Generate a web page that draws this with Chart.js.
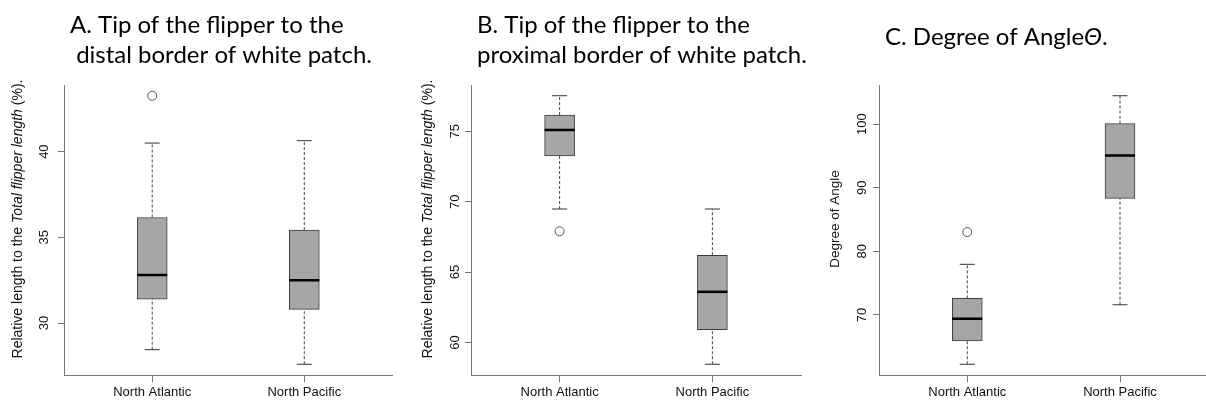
<!DOCTYPE html>
<html><head><meta charset="utf-8">
<script src="https://cdn.jsdelivr.net/npm/chart.js@4.4.1/dist/chart.umd.min.js"></script>
<style>
html,body{margin:0;padding:0;background:#fff;width:1206px;height:406px;overflow:hidden}
canvas{position:absolute;top:0}
</style></head><body>
<canvas id="cA" width="400" height="406" style="left:0px"></canvas>
<canvas id="cB" width="480" height="406" style="left:400px"></canvas>
<canvas id="cC" width="400" height="406" style="left:806px"></canvas>
<script>
const CATEGORIES = ['North Atlantic', 'North Pacific'];

// Panel A: tip of flipper to distal border of white patch (%)
const A_MIN = [28.45, 27.6];
const A_Q1 = [31.4, 30.8];
const A_MEDIAN = [32.81, 32.5];
const A_Q3 = [36.16, 35.43];
const A_MAX = [40.5, 40.64];
const A_OUTLIERS = [[43.26], []];
const A_TICKS = [30, 35, 40];

// Panel B: tip of flipper to proximal border of white patch (%)
const B_MIN = [69.48, 58.46];
const B_Q1 = [73.25, 60.92];
const B_MEDIAN = [75.09, 63.6];
const B_Q3 = [76.15, 66.2];
const B_MAX = [77.52, 69.48];
const B_OUTLIERS = [[67.9], []];
const B_TICKS = [60, 65, 70, 75];

// Panel C: degree of angle
const C_MIN = [62.24, 71.6];
const C_Q1 = [65.9, 88.34];
const C_MEDIAN = [69.4, 95.08];
const C_Q3 = [72.6, 100.1];
const C_MAX = [77.96, 104.48];
const C_OUTLIERS = [[83.04], []];
const C_TICKS = [70, 80, 90, 100];

const SANS = '"Liberation Sans", Arial, sans-serif';
const TICK_FONT = '13px ' + SANS;
const TITLE_FAMILY = 'Lato, "Open Sans", sans-serif';

function drawSegs(ctx, segs, x, y, size, family, align) {
  const fonts = segs.map(s => (s[1] ? 'italic ' : '') + size + 'px ' + family);
  let total = 0;
  const widths = segs.map((s, i) => { ctx.font = fonts[i]; const w = ctx.measureText(s[0]).width; total += w; return w; });
  let cx = align === 'center' ? x - total / 2 : x;
  segs.forEach((s, i) => { ctx.font = fonts[i]; ctx.fillText(s[0], cx, y); cx += widths[i]; });
}

function makePanel(id, cfg) {
  const xs = CATEGORIES.map((c, i) => i + 1);
  const whiskers = [];
  xs.forEach((x, i) => {
    whiskers.push({x, y: cfg.min[i]}, {x, y: cfg.q1[i]}, {x, y: null},
                  {x, y: cfg.q3[i]}, {x, y: cfg.max[i]}, {x, y: null});
  });
  const caps = [];
  xs.forEach((x, i) => { caps.push({x, y: cfg.min[i]}, {x, y: cfg.max[i]}); });
  const outs = [];
  xs.forEach((x, i) => { cfg.out[i].forEach(v => outs.push({x, y: v})); });
  const all = [].concat(cfg.min, cfg.max, ...cfg.out);
  const lo = Math.min(...all), hi = Math.max(...all), ext = (hi - lo) * 0.04;

  const textPlugin = {
    id: 'panelText',
    afterDraw(chart) {
      const ctx = chart.ctx;
      const ys = chart.scales.y;
      ctx.save();
      ctx.fillStyle = '#111';
      // y tick labels (rotated)
      ctx.font = TICK_FONT;
      ctx.textAlign = 'center';
      ctx.textBaseline = 'middle';
      ys.ticks.forEach(t => {
        const py = ys.getPixelForValue(t.value);
        ctx.save();
        ctx.translate(chart.chartArea.left - cfg.tickOffset, py);
        ctx.rotate(-Math.PI / 2);
        ctx.fillText(String(t.value), 0, 0);
        ctx.restore();
      });
      // y axis title
      ctx.save();
      ctx.translate(cfg.ylab.x - cfg.L, cfg.ylab.y);
      ctx.rotate(-Math.PI / 2);
      ctx.textAlign = 'left';
      ctx.textBaseline = 'middle';
      drawSegs(ctx, cfg.ylab.segs, 0, 0, cfg.ylab.size, SANS, 'center');
      ctx.restore();
      // panel title
      ctx.textAlign = 'left';
      ctx.textBaseline = 'alphabetic';
      ctx.fillStyle = '#000';
      cfg.titles.forEach(t => drawSegs(ctx, t.segs, t.x - cfg.L, t.y, 24, TITLE_FAMILY, 'left'));
      ctx.restore();
    }
  };

  return new Chart(document.getElementById(id), {
    type: 'bar',
    data: {
      datasets: [
        {type: 'scatter', data: xs.map((x, i) => ({x, y: cfg.med[i]})), pointStyle: 'line', pointRadius: 15,
         pointBorderWidth: 2.5, pointBorderColor: '#000', order: 0},
        {type: 'scatter', data: outs, pointStyle: 'circle', pointRadius: 4.5, pointBorderWidth: 1,
         pointBorderColor: '#555', pointBackgroundColor: 'rgba(255,255,255,0)', order: 0},
        {type: 'scatter', data: caps, pointStyle: 'line', pointRadius: 7.5, pointBorderWidth: 1,
         pointBorderColor: '#333', order: 1},
        {type: 'bar', data: xs.map((x, i) => ({x, y: [cfg.q1[i], cfg.q3[i]]})), backgroundColor: '#a6a6a6',
         borderColor: '#3c3c3c', borderWidth: 1, borderSkipped: false, barThickness: 30, order: 2},
        {type: 'line', data: whiskers, borderColor: '#444', borderWidth: 1, borderDash: [3, 2],
         pointRadius: 0, fill: false, spanGaps: false, order: 3}
      ]
    },
    options: {
      responsive: false, animation: false, events: [],
      layout: {autoPadding: false, padding: {left: 0, top: 85, right: cfg.padRight, bottom: 0}},
      plugins: {legend: {display: false}, tooltip: {enabled: false}, title: {display: false}},
      scales: {
        x: {
          type: 'linear', min: cfg.xMin, max: cfg.xMax, offset: false,
          grid: {display: true, drawOnChartArea: false, drawTicks: true, tickLength: 7, color: '#777', offset: false},
          border: {display: true, color: '#777', width: 1},
          ticks: {autoSkip: false, maxRotation: 0, minRotation: 0, padding: 3, color: '#111',
                  font: {family: SANS, size: 13},
                  callback: v => CATEGORIES[Math.round(v) - 1] || ''},
          afterBuildTicks: s => { s.ticks = xs.map(v => ({value: v})); },
          afterFit: s => { s.height = 31; s.paddingLeft = 0; s.paddingRight = 0; }
        },
        y: {
          type: 'linear', min: lo - ext, max: hi + ext,
          grid: {display: true, drawOnChartArea: false, drawTicks: true, tickLength: 6, color: '#777'},
          border: {display: true, color: '#777', width: 1},
          ticks: {display: false},
          afterBuildTicks: s => { s.ticks = cfg.ticks.map(v => ({value: v})); },
          afterFit: s => { s.width = cfg.axisX - cfg.L; s.paddingTop = 0; s.paddingBottom = 0; }
        }
      }
    },
    plugins: [textPlugin]
  });
}

makePanel('cA', {
  L: 0, axisX: 64, padRight: 7.5, xMin: 0.42, xMax: 2.58, tickOffset: 20,
  min: A_MIN, q1: A_Q1, med: A_MEDIAN, q3: A_Q3, max: A_MAX, out: A_OUTLIERS, ticks: A_TICKS,
  titles: [{x: 70, y: 33, segs: [['A. Tip of the flipper to the', false]]},
           {x: 70, y: 63, segs: [[' distal border of white patch.', false]]}],
  ylab: {x: 18, y: 219, size: 14, segs: [['Relative length to the ', false], ['Total flipper length', true], [' (%).', false]]}
});
makePanel('cB', {
  L: 400, axisX: 471, padRight: 79, xMin: 0.42, xMax: 2.58, tickOffset: 16,
  min: B_MIN, q1: B_Q1, med: B_MEDIAN, q3: B_Q3, max: B_MAX, out: B_OUTLIERS, ticks: B_TICKS,
  titles: [{x: 477, y: 33, segs: [['B. Tip of the flipper to the', false]]},
           {x: 477, y: 63, segs: [['proximal border of white patch.', false]]}],
  ylab: {x: 428, y: 219, size: 14, segs: [['Relative length to the ', false], ['Total flipper length', true], [' (%).', false]]}
});
makePanel('cC', {
  L: 806, axisX: 879, padRight: 0, xMin: 0.422, xMax: 2.563, tickOffset: 17,
  min: C_MIN, q1: C_Q1, med: C_MEDIAN, q3: C_Q3, max: C_MAX, out: C_OUTLIERS, ticks: C_TICKS,
  titles: [{x: 885, y: 45, segs: [['C. Degree of Angle', false], ['\u0398', true], ['.', false]]}],
  ylab: {x: 835, y: 219, size: 13.5, segs: [['Degree of Angle', false]]}
});
</script>
</body></html>
